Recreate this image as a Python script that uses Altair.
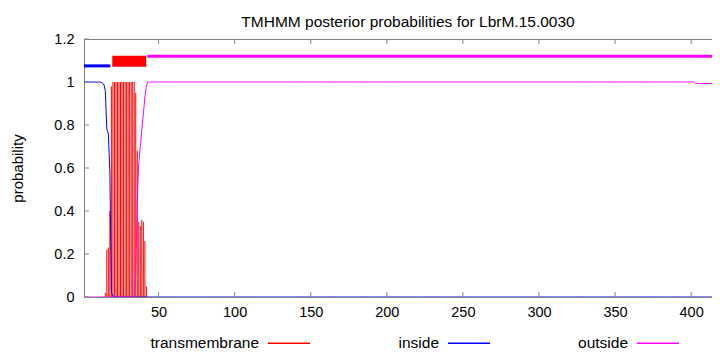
import altair as alt
import pandas as pd

TITLE = "TMHMM posterior probabilities for LbrM.15.0030"
N_RES = 419
X_VISIBLE_END = 413.7  # right edge of the visible plot area

# transmembrane posterior probability, residues 15..42 (zero elsewhere)
TM_FIRST = 15
tm_vals = [0.02, 0.22, 0.23, 0.40, 0.98] + [1.0] * 15 + [0.95, 0.68, 0.35, 0.33, 0.36, 0.35, 0.26, 0.05]

# inside posterior, residues 1..20 (zero afterwards)
inside_head = [1.0] * 12 + [0.995, 0.99, 0.96, 0.78, 0.76, 0.58, 0.02, 0.005]

# outside posterior: zero for residues 1..33, then residues 34..43, 1.0 to 402, 0.993 to the end
OUT_FIRST = 34
outside_rise = [0.0, 0.10, 0.45, 0.62, 0.70, 0.78, 0.85, 0.93, 0.98, 1.0]
OUT_DROP_AT = 403
outside_tail_level = 0.993

# predicted topology track above the curves
seg_series = ["inside", "transmembrane", "outside"]
seg_start = [1, 19.6, 42.6]
seg_end = [18.3, 41.9, 419]
seg_lo = [1.075, 1.071, 1.12]
seg_hi = [1.075, 1.122, 1.12]

series_names = ["transmembrane", "inside", "outside"]
series_colors = ["#ff0000", "#0000ff", "#ff00ff"]

x_ticks = [50, 100, 150, 200, 250, 300, 350, 400]
y_ticks = [0, 0.2, 0.4, 0.6, 0.8, 1, 1.2]

# ---- build tables
residues = list(range(1, N_RES + 1))
tm = [0.0] * N_RES
for i, v in enumerate(tm_vals):
    tm[TM_FIRST - 1 + i] = v
inside = inside_head + [0.0] * (N_RES - len(inside_head))
outside = [0.0] * (OUT_FIRST - 1) + outside_rise
outside += [1.0] * (OUT_DROP_AT - 1 - len(outside))
outside += [outside_tail_level] * (N_RES - len(outside))

df_tm = pd.DataFrame({"residue": residues, "prob": tm, "base": 0.0, "series": "transmembrane"})
df_tm = df_tm[df_tm["prob"] > 0]
df_lines = pd.concat([
    pd.DataFrame({"residue": residues, "prob": inside, "series": "inside"}),
    pd.DataFrame({"residue": residues, "prob": outside, "series": "outside"}),
])
df_seg = pd.DataFrame({"series": seg_series, "start": seg_start, "end": seg_end, "lo": seg_lo, "hi": seg_hi})
df_xt = pd.DataFrame({"t": x_ticks})
df_yt = pd.DataFrame({"t": y_ticks})

FONT = "Liberation Sans"
GRAY = "#808080"
W, H = 628, 258

xscale = alt.Scale(domain=[1, X_VISIBLE_END], nice=False, zero=False)
yscale = alt.Scale(domain=[0, 1.2], nice=False)
cscale = alt.Scale(domain=series_names, range=series_colors)

xaxis = alt.Axis(values=x_ticks, ticks=False, domain=True, domainColor=GRAY, domainWidth=1,
                 grid=False, title=None,
                 labelFontSize=14.5, labelFont=FONT, labelColor="black", labelPadding=8,
                 tickSize=0, labelFlush=False)
xaxis_top = alt.Axis(orient="top", labels=False, ticks=False, domain=True, domainColor=GRAY,
                     domainWidth=1, grid=False, title=None, tickSize=0)
yaxis = alt.Axis(values=y_ticks, ticks=False, domain=True, domainColor=GRAY, domainWidth=1,
                 grid=False, title="probability",
                 labelFontSize=14.5, labelFont=FONT, labelColor="black", labelPadding=10,
                 tickSize=0, format="~g", titleFont=FONT, titleFontSize=15,
                 titleFontWeight="normal", titleColor="black", titlePadding=28)
legend = alt.Legend(title=None, orient="none", legendX=183, legendY=282, direction="horizontal",
                    symbolType="stroke", symbolSize=1764, symbolStrokeWidth=1.5,
                    labelFontSize=15.5, labelFont=FONT, labelColor="black",
                    labelAlign="right", labelOffset={"expr": "-52"}, columnPadding=85, padding=0)

impulses = alt.Chart(df_tm).mark_rule(strokeWidth=1, clip=True).encode(
    x=alt.X("residue:Q", scale=xscale, axis=xaxis),
    y=alt.Y("prob:Q", scale=yscale, axis=yaxis),
    y2=alt.Y2("base:Q"),
    color=alt.Color("series:N", scale=cscale, legend=legend),
)
lines = alt.Chart(df_lines).mark_line(strokeWidth=1, clip=True).encode(
    x=alt.X("residue:Q", axis=None), y="prob:Q",
    color=alt.Color("series:N", scale=cscale), detail="series:N",
)
seg_lines = alt.Chart(df_seg).transform_filter("datum.series != 'transmembrane'").mark_rule(strokeWidth=3, clip=True).encode(
    x=alt.X("start:Q", axis=None), x2="end:Q", y="lo:Q", color=alt.Color("series:N", scale=cscale),
)
seg_box = alt.Chart(df_seg).transform_filter("datum.series == 'transmembrane'").mark_rect(clip=True).encode(
    x=alt.X("start:Q", axis=None), x2="end:Q", y="lo:Q", y2="hi:Q", color=alt.Color("series:N", scale=cscale),
)
xt_bottom = alt.Chart(df_xt).mark_rule(color=GRAY).encode(
    x=alt.X("t:Q", axis=None), y=alt.value(H), y2=alt.value(H - 5))
xt_top = alt.Chart(df_xt).mark_rule(color=GRAY).encode(
    x=alt.X("t:Q", axis=xaxis_top), y=alt.value(0), y2=alt.value(5))
yt_left = alt.Chart(df_yt).mark_rule(color=GRAY).encode(
    y="t:Q", x=alt.value(0), x2=alt.value(5))

chart = alt.layer(impulses, lines, seg_lines, seg_box, xt_bottom, xt_top, yt_left).resolve_axis(
    x="independent"
).properties(
    width=W, height=H,
    title=alt.TitleParams(TITLE, font=FONT, fontSize=15.5, fontWeight="normal", color="black",
                          anchor="middle", offset=1, dx=10),
    autosize=alt.AutoSizeParams(type="none"),
    padding={"left": 76, "top": 31, "right": 0, "bottom": 53},
).configure_view(strokeOpacity=0, strokeWidth=0).configure(background="white")

chart.save("out.html", embed_options={"renderer": "svg", "actions": False})
